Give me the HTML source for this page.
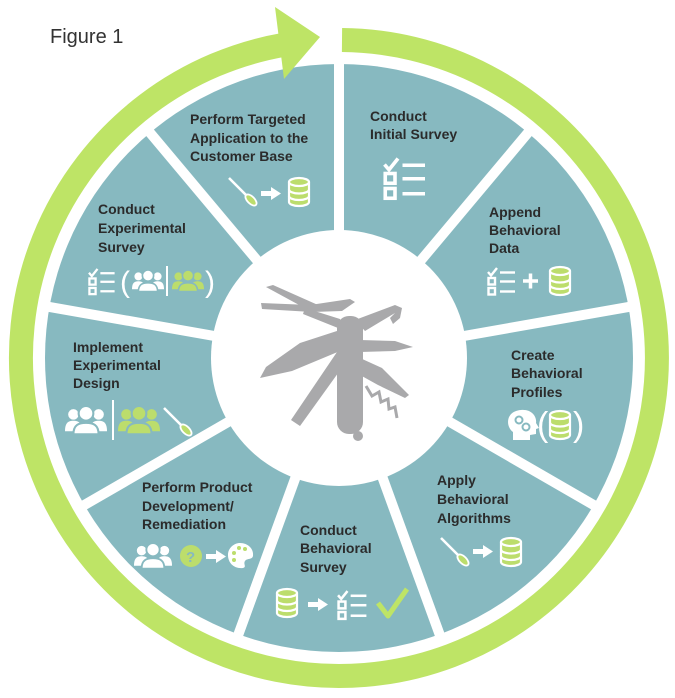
<!DOCTYPE html>
<html><head><meta charset="utf-8"><style>
html,body{margin:0;padding:0;background:#fff;}
svg{display:block;}
.t{font-family:"Liberation Sans",Arial,sans-serif;font-weight:bold;font-size:14px;fill:#2b2b2b;}
</style></head><body>
<svg width="675" height="698" viewBox="0 0 675 698" xmlns="http://www.w3.org/2000/svg">
<defs>
<g id="db">
<path d="M1,5 A10,4 0 0 1 21,5 V25 A10,4 0 0 1 1,25 Z" fill="#bcdd6c" stroke="#fff" stroke-width="2.2"/>
<path d="M1,5 A10,4 0 0 0 21,5" fill="none" stroke="#fff" stroke-width="2.2"/>
<path d="M1,12.5 A10,4 0 0 0 21,12.5" fill="none" stroke="#fff" stroke-width="2.2"/>
<path d="M1,19 A10,4 0 0 0 21,19" fill="none" stroke="#fff" stroke-width="2.2"/>
</g>
<g id="chk" fill="none" stroke="#fff" stroke-width="2.4">
<polyline points="1,5 4,8.5 10,1"/>
<line x1="13" y1="5.5" x2="28" y2="5.5"/>
<rect x="1.5" y="11" width="6.5" height="6.5"/>
<line x1="13" y1="14.5" x2="28" y2="14.5"/>
<rect x="1.5" y="21" width="6.5" height="6.5"/>
<line x1="13" y1="24.5" x2="28" y2="24.5"/>
</g>
<g id="brush">
<line x1="1" y1="1" x2="19" y2="19" stroke="#fff" stroke-width="2.6"/>
<ellipse cx="23" cy="23" rx="7" ry="3.6" transform="rotate(45 23 23)" fill="#bcdd6c" stroke="#fff" stroke-width="1.8"/>
</g>
<path id="arr" d="M0,4 H10 V0 L20,6.5 L10,13 V9 H0 Z" fill="#fff"/>
<g id="ppl">
<circle cx="8" cy="8" r="5"/>
<path d="M0,24 C0,16 3,14 8,14 C13,14 16,16 16,24 Z"/>
<circle cx="32" cy="8" r="5"/>
<path d="M24,24 C24,16 27,14 32,14 C37,14 40,16 40,24 Z"/>
<circle cx="20" cy="7" r="7" stroke="#87b9c0" stroke-width="2"/>
<path d="M8,27 C8,18 13,16 20,16 C27,16 32,18 32,27 Z" stroke="#87b9c0" stroke-width="2"/>
</g>
</defs>
<rect width="675" height="698" fill="#fff"/>
<text x="50" y="43" font-family="Liberation Sans, Arial, sans-serif" font-size="20" fill="#333">Figure 1</text>

<circle cx="339" cy="358" r="294" fill="#87b9c0"/>
<circle cx="339" cy="358" r="128" fill="#fff"/>
<g stroke="#fff" stroke-width="10">
<line x1="339" y1="358" x2="339" y2="58"/>
<line x1="339" y1="358" x2="531.8" y2="128.2"/>
<line x1="339" y1="358" x2="634.4" y2="305.9"/>
<line x1="339" y1="358" x2="598.8" y2="508"/>
<line x1="339" y1="358" x2="441.6" y2="639.9"/>
<line x1="339" y1="358" x2="236.4" y2="639.9"/>
<line x1="339" y1="358" x2="79.2" y2="508"/>
<line x1="339" y1="358" x2="43.6" y2="305.9"/>
<line x1="339" y1="358" x2="146.2" y2="128.2"/>
</g>

<path d="M342 40 A318 318 0 1 1 283.8 44.8" fill="none" stroke="#bee466" stroke-width="24"/>
<polygon points="275,7 320,37 284,79" fill="#bee466"/>

<!-- knife -->
<g fill="#a9a9ab">
<polygon points="266,287 273,285 318,305 312,312"/>
<polygon points="261,303 310,305 312,312 262,309"/>
<polygon points="310,305 350,299 355,302 342,311 312,312"/>
<polygon points="305,308 340,319 343,330 303,314"/>
<polygon points="340,330 300,343 266,367 260,378 292,371 340,351"/>
<polygon points="337,352 346,362 300,426 291,420"/>
<polygon points="355,320 395,305 402,308 400,318 393,324 390,318 395,313 365,331"/>
<polygon points="360,340 395,341 413,347 395,351 360,352"/>
<polygon points="360,358 382,368 409,395 405,398 378,385 360,375"/>
<rect x="337" y="316" width="26" height="118" rx="12"/>
<circle cx="358" cy="436" r="5"/>
</g>
<polyline points="366,386 372,396 379,392 381,402 388,399 389,409 395,407 397,418" fill="none" stroke="#a9a9ab" stroke-width="3"/>

<!-- labels -->
<g class="t">
<text x="190" y="124">Perform Targeted</text>
<text x="190" y="143">Application to the</text>
<text x="190" y="161">Customer Base</text>

<text x="370" y="121">Conduct</text>
<text x="370" y="139">Initial Survey</text>

<text x="489" y="217">Append</text>
<text x="489" y="235">Behavioral</text>
<text x="489" y="253">Data</text>

<text x="511" y="360">Create</text>
<text x="511" y="378">Behavioral</text>
<text x="511" y="397">Profiles</text>

<text x="437" y="485">Apply</text>
<text x="437" y="504">Behavioral</text>
<text x="437" y="523">Algorithms</text>

<text x="300" y="535">Conduct</text>
<text x="300" y="553">Behavioral</text>
<text x="300" y="572">Survey</text>

<text x="142" y="492">Perform Product</text>
<text x="142" y="511">Development/</text>
<text x="142" y="529">Remediation</text>

<text x="73" y="352">Implement</text>
<text x="73" y="370">Experimental</text>
<text x="73" y="388">Design</text>

<text x="98" y="214">Conduct</text>
<text x="98" y="233">Experimental</text>
<text x="98" y="252">Survey</text>
</g>

<!-- icons: Perform Targeted -->
<use href="#brush" transform="translate(228,177)"/>
<use href="#arr" transform="translate(261,187)"/>
<use href="#db" transform="translate(288,177)"/>

<!-- Conduct Initial -->
<use href="#chk" transform="translate(383,157) scale(1.5)"/>

<!-- Append -->
<use href="#chk" transform="translate(487,267)"/>
<g stroke="#fff" stroke-width="3.5"><line x1="523" y1="281" x2="538" y2="281"/><line x1="530.5" y1="273.5" x2="530.5" y2="288.5"/></g>
<use href="#db" transform="translate(549,266)"/>

<!-- Create -->
<path d="M513,440 L513,432 C505,426 506,411 521,410 C532,409 537,417 536,423 L539,428 L536,429 L536,434 L530,435 L530,440 Z" fill="#fff"/>
<circle cx="519" cy="420" r="3.5" fill="none" stroke="#87b9c0" stroke-width="2"/>
<circle cx="526" cy="427" r="3.5" fill="none" stroke="#87b9c0" stroke-width="2"/>
<text x="537" y="436" font-family="Liberation Sans, Arial, sans-serif" font-size="34" fill="#fff">(</text>
<use href="#db" transform="translate(549,410)"/>
<text x="573" y="436" font-family="Liberation Sans, Arial, sans-serif" font-size="34" fill="#fff">)</text>

<!-- Apply -->
<use href="#brush" transform="translate(440,537)"/>
<use href="#arr" transform="translate(473,545)"/>
<use href="#db" transform="translate(500,537)"/>

<!-- Conduct Behavioral -->
<use href="#db" transform="translate(276,588)"/>
<use href="#arr" transform="translate(308,598)"/>
<use href="#chk" transform="translate(337,590) scale(1.05)"/>
<polyline points="378,603 388,616 407,589" fill="none" stroke="#bee466" stroke-width="5" stroke-linejoin="round"/>

<!-- Perform Product -->
<use href="#ppl" transform="translate(134,543) scale(0.95)" fill="#fff"/>
<circle cx="191" cy="556" r="11" fill="#bcdd6c"/>
<text x="186" y="562" font-family="Liberation Sans, Arial, sans-serif" font-weight="bold" font-size="15" fill="#87b9c0">?</text>
<use href="#arr" transform="translate(206,550)"/>
<path d="M240,543 C248,543 254,549 253,556 C252,560 247,558 245,561 C243,564 247,567 243,568 C234,569 228,563 228,555 C228,548 234,543 240,543 Z" fill="#fff"/>
<g fill="#bcdd6c"><circle cx="234" cy="553" r="2"/><circle cx="239" cy="548" r="2"/><circle cx="245" cy="549" r="2"/><circle cx="234" cy="560" r="2"/></g>

<!-- Implement -->
<use href="#ppl" transform="translate(65,406) scale(1.05)" fill="#fff"/>
<line x1="113" y1="400" x2="113" y2="440" stroke="#fff" stroke-width="2"/>
<use href="#ppl" transform="translate(118,406) scale(1.05)" fill="#bcdd6c"/>
<use href="#brush" transform="translate(163,407)"/>

<!-- Conduct Experimental -->
<use href="#chk" transform="translate(88,268) scale(0.95)"/>
<text x="120" y="292" font-family="Liberation Sans, Arial, sans-serif" font-size="30" fill="#fff">(</text>
<use href="#ppl" transform="translate(132,270) scale(0.8)" fill="#fff"/>
<line x1="167" y1="266" x2="167" y2="296" stroke="#fff" stroke-width="2"/>
<use href="#ppl" transform="translate(172,270) scale(0.8)" fill="#bcdd6c"/>
<text x="205" y="292" font-family="Liberation Sans, Arial, sans-serif" font-size="30" fill="#fff">)</text>
</svg>
</body></html>
